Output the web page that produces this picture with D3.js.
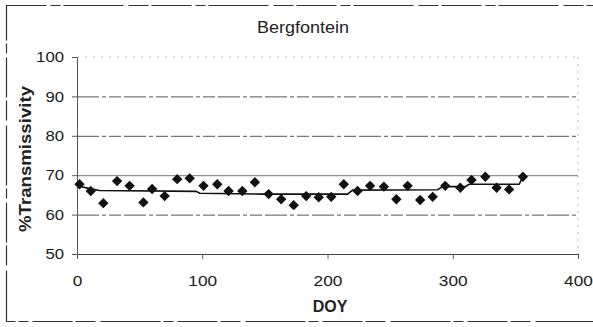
<!DOCTYPE html>
<html>
<head>
<meta charset="utf-8">
<script src="https://cdn.jsdelivr.net/npm/d3@7"></script>
<style>
  html, body { margin: 0; padding: 0; background: #fff; }
  svg text { font-family: "Liberation Sans", Arial, sans-serif; fill: #222; }
</style>
</head>
<body>
<svg id="chart" width="593" height="327"></svg>
<script>
// Dekadal transmissivity observations (day of year, %)
const doy = [2, 11, 21, 32, 42, 53, 60, 70, 80, 90, 101, 112, 121, 132, 142, 153, 163, 173,
             183, 193, 203, 213, 224, 234, 245, 255, 264, 274, 284, 294, 306, 315, 326, 335, 345, 356];
const transmissivity = [67.7, 66.0, 62.9, 68.5, 67.3, 63.1, 66.5, 64.7, 69.0, 69.2, 67.3, 67.7,
                        66.0, 66.0, 68.2, 65.2, 63.9, 62.4, 64.7, 64.4, 64.5, 67.7, 66.0, 67.3,
                        67.1, 63.9, 67.3, 63.7, 64.5, 67.3, 66.8, 68.8, 69.6, 66.8, 66.4, 69.6];

// Fitted seasonal trend line
const trendDoy = [2, 10, 18, 95, 98, 148, 216, 220, 288, 292, 310, 313, 353, 356];
const trendVal = [67.2, 66.6, 66.1, 65.9, 65.4, 65.2, 65.2, 66.2, 66.3, 67.1, 67.1, 67.7, 67.7, 69.6];

// Axis ticks
const xTicks = [0, 100, 200, 300, 400];
const yTicks = [50, 60, 70, 80, 90, 100];
const gridValues = [60, 70, 80, 90];

const svg = d3.select("#chart");
const x = d3.scaleLinear().domain([0, 400]).range([77, 578]);
const y = d3.scaleLinear().domain([50, 100]).range([254, 57]);

// Outer chart frame
svg.append("rect")
  .attr("x", 6.5).attr("y", 5.5).attr("width", 600).attr("height", 316)
  .attr("fill", "none").attr("stroke", "#333").attr("stroke-width", 1.2)
  .attr("stroke-dasharray", "40,4,10,3,60,5,20,3");

// Title
svg.append("text")
  .attr("x", 303).attr("y", 32.5)
  .attr("text-anchor", "middle")
  .attr("font-size", 16)
  .attr("textLength", 92).attr("lengthAdjust", "spacingAndGlyphs")
  .text("Bergfontein");

// Plot area border (faint right and top edges)
svg.append("line")
  .attr("x1", x(0)).attr("x2", x(400)).attr("y1", y(100)).attr("y2", y(100))
  .attr("stroke", "#bbb").attr("stroke-width", 1).attr("stroke-dasharray", "2,6");
svg.append("line")
  .attr("x1", x(400)).attr("x2", x(400)).attr("y1", y(100)).attr("y2", y(50))
  .attr("stroke", "#bbb").attr("stroke-width", 1).attr("stroke-dasharray", "2,5");

// Horizontal gridlines
svg.append("g").selectAll("line")
  .data(gridValues)
  .join("line")
  .attr("x1", x(0)).attr("x2", x(400))
  .attr("y1", d => y(d) + 0.5).attr("y2", d => y(d) + 0.5)
  .attr("stroke", d => d === 70 ? "#777" : "#555")
  .attr("stroke-width", 1)
  .attr("stroke-dasharray", d => d === 70 ? null : "22,3,4,3,12,3");

// Y axis
const yAxis = svg.append("g")
  .attr("transform", `translate(${x(0)},0)`)
  .call(d3.axisLeft(y).tickValues(yTicks).tickFormat(d3.format("d"))
        .tickSize(5).tickSizeOuter(0).tickPadding(8));
yAxis.select(".domain").attr("stroke", "#555");
yAxis.selectAll(".tick line").attr("stroke", "#555");
yAxis.selectAll("text")
  .attr("font-size", 14.5)
  .attr("textLength", d => String(d).length * 9.3)
  .attr("lengthAdjust", "spacingAndGlyphs")
  .style("fill", "#1a1a1a");

// X axis
const xAxis = svg.append("g")
  .attr("transform", `translate(0,${y(50)})`)
  .call(d3.axisBottom(x).tickValues(xTicks).tickFormat(d3.format("d"))
        .tickSize(5).tickSizeOuter(0).tickPadding(17));
xAxis.select(".domain").attr("stroke", "#444").attr("stroke-width", 1.2);
xAxis.selectAll(".tick line").attr("stroke", "#555");
xAxis.selectAll("text")
  .attr("font-size", 14.5)
  .attr("textLength", d => String(d).length * 9.6)
  .attr("lengthAdjust", "spacingAndGlyphs")
  .style("fill", "#1a1a1a");

// Axis titles
svg.append("text")
  .attr("x", 330).attr("y", 311.5)
  .attr("text-anchor", "middle")
  .attr("font-size", 16).attr("font-weight", "bold")
  .text("DOY");

svg.append("text")
  .attr("transform", "translate(31,159) rotate(-90)")
  .attr("text-anchor", "middle")
  .attr("font-size", 16).attr("font-weight", "bold")
  .attr("textLength", 146).attr("lengthAdjust", "spacingAndGlyphs")
  .text("%Transmissivity");

// Trend line
const trend = trendDoy.map((d, i) => [d, trendVal[i]]);
svg.append("path")
  .datum(trend)
  .attr("fill", "none")
  .attr("stroke", "#111")
  .attr("stroke-width", 1.6)
  .attr("d", d3.line().x(d => x(d[0])).y(d => y(d[1])));

// Observation markers
const diamond = d3.symbol().type(d3.symbolSquare).size(54);
svg.append("g").selectAll("path")
  .data(doy.map((d, i) => [d, transmissivity[i]]))
  .join("path")
  .attr("d", diamond)
  .attr("transform", d => `translate(${x(d[0])},${y(d[1])}) rotate(45)`)
  .attr("fill", "#111");
</script>
</body>
</html>
